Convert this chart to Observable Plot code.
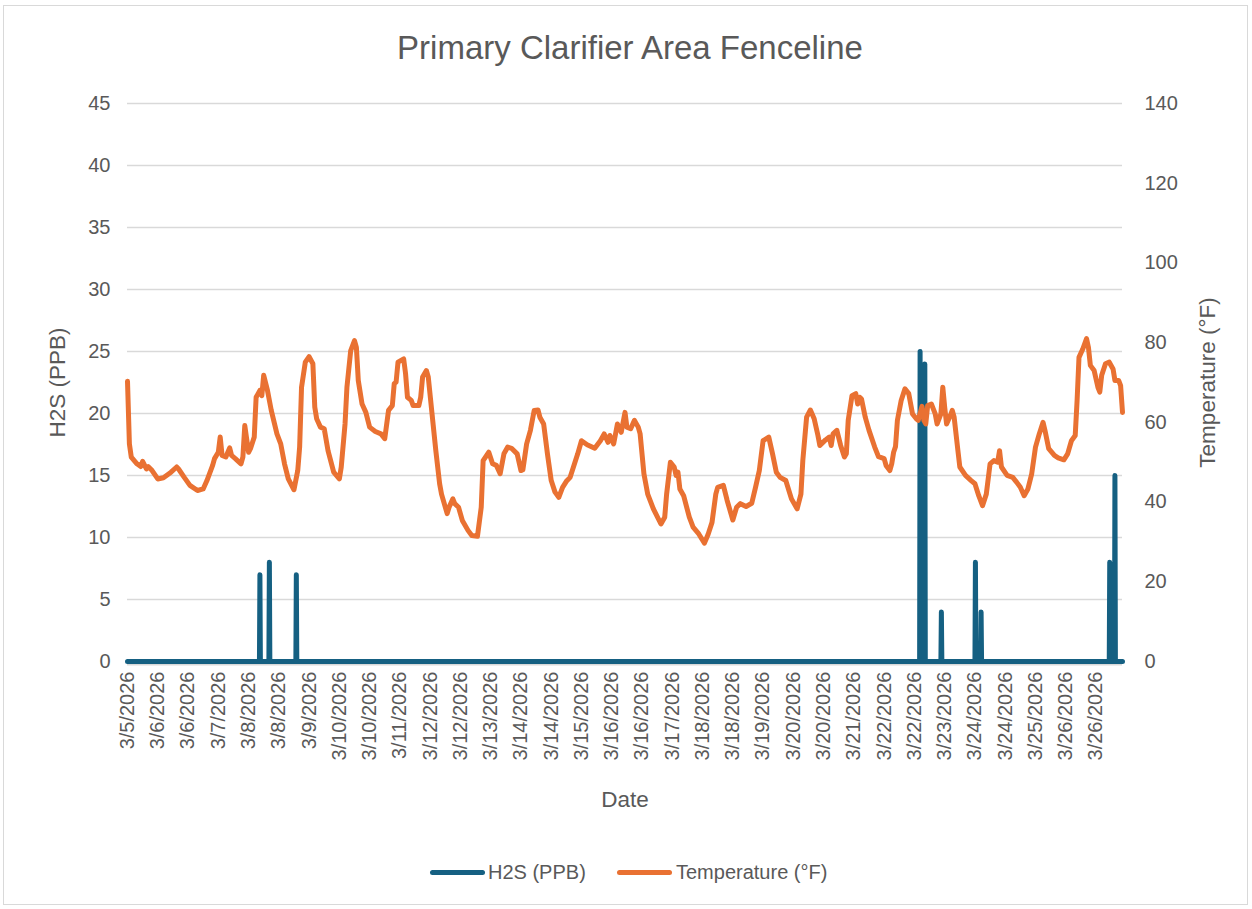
<!DOCTYPE html>
<html><head><meta charset="utf-8">
<script src="https://cdn.jsdelivr.net/npm/d3@7"></script>
<script src="https://cdn.jsdelivr.net/npm/@observablehq/plot@0.6"></script>
<style>
body{margin:0;background:#fff;font-family:"Liberation Sans",Arial,sans-serif;color:#595959;width:1252px;height:909px;overflow:hidden}
#frame{position:absolute;left:3px;top:5px;width:1245px;height:900px;border:1px solid #d9d9d9;box-sizing:border-box}
#title{position:absolute;left:0;width:1260px;top:28px;text-align:center;font-size:33px;line-height:40px}
#chart{position:absolute;left:0;top:0}
.sw{position:absolute;height:5px;border-radius:3px;top:869.5px;width:55px}
.lt{position:absolute;top:860px;height:24px;line-height:24px;font-size:20px;white-space:nowrap}
</style></head>
<body>
<div id="frame"></div>
<div id="chart"></div>
<div id="title">Primary Clarifier Area Fenceline</div>
<div class="sw" style="left:430px;background:#156082"></div><div class="lt" style="left:488px">H2S (PPB)</div>
<div class="sw" style="left:617px;background:#E97132"></div><div class="lt" style="left:676px">Temperature (°F)</div>
<script>
// category axis tick labels (one every 16 hours)
const tickLabels = ["3/5/2026","3/6/2026","3/6/2026","3/7/2026","3/8/2026","3/8/2026","3/9/2026","3/10/2026","3/10/2026","3/11/2026","3/12/2026","3/12/2026","3/13/2026","3/14/2026","3/14/2026","3/15/2026","3/16/2026","3/16/2026","3/17/2026","3/18/2026","3/18/2026","3/19/2026","3/20/2026","3/20/2026","3/21/2026","3/22/2026","3/22/2026","3/23/2026","3/24/2026","3/24/2026","3/25/2026","3/26/2026","3/26/2026"];
const tickHours = [0,16,32,48,64,80,96,112,128,144,160,176,192,208,224,240,256,272,288,304,320,336,352,368,384,400,416,432,448,464,480,496,512];
const lastHour = 526;
const h2sTicks = [0,5,10,15,20,25,30,35,40,45];
const tempTicks = [0,20,40,60,80,100,120,140];

// H2S (PPB) samples (15-minute readings): hour and value
const h2sHour  = [0,69.75,70,70.25,74.75,75,75.25,89,89.25,89.5,418.75,419,419.25,421.25,421.5,421.75,430,430.25,430.5,448,448.25,448.5,451,451.25,451.5,519,519.25,519.5,521.75,522,522.25,526];
const h2sValue = [0,0,7,0,0,8,0,0,7,0,0,25,0,0,24,0,0,4,0,0,8,0,0,4,0,0,8,0,0,15,0,0];

// Temperature (°F) samples: hour and value
const tempHour = [0,1,2,5,7,8,10,11,13,16,19,23,26,27,30,33,37,40,42,45,46,48,49,50,52,54,55,57,60,61,62,64,65,67,68,70,71,72,74,76,79,81,83,85,88,90,91,92,94,96,98,99,100,102,104,106,109,112,113,115,116,118,120,121,122,124,126,128,131,134,136,138,140,141,142,143,146,147,148,150,151,154,155,156,158,159,161,163,165,166,169,170,172,173,175,177,180,182,185,187,188,191,193,195,197,199,201,203,206,208,209,211,213,215,217,218,220,222,224,226,228,230,232,234,236,238,240,243,247,250,252,254,255,257,259,261,263,264,266,268,270,271,273,275,278,282,284,285,287,289,290,291,292,294,297,299,302,305,307,309,311,312,315,317,320,322,324,327,330,332,334,336,339,341,343,345,348,351,354,356,357,359,361,363,365,366,369,371,372,373,375,377,379,380,381,383,385,386,387,388,390,392,395,397,400,401,403,404,405,406,407,409,411,413,415,417,418,420,421,422,423,425,427,428,430,431,432,433,435,436,437,439,440,443,446,448,450,452,454,456,458,460,461,462,465,468,470,472,474,476,478,480,482,484,485,487,490,492,495,497,499,501,502,503,505,507,508,509,511,513,514,515,517,519,521,522,524,525,526];
const tempValue = [70.3,54.6,51.3,49.6,48.9,50.2,48.3,48.9,47.9,45.8,46.1,47.5,48.8,48.3,46.2,44.2,42.9,43.3,45.4,49.2,50.9,52.5,56.3,51.7,51.3,53.6,51.7,50.9,49.6,51.3,59.2,52.5,53.4,56.3,66.3,68,66.7,71.8,68,63,57.1,54.6,49.6,45.8,43.1,47.9,53.8,68.8,75.1,76.5,74.7,63.8,60.9,58.8,58.4,52.9,47.5,45.8,48.8,59.6,68.8,78,80.5,78.8,70.5,64.6,62.5,58.8,57.7,57.1,55.9,63,64.2,69.7,70.1,75.1,75.9,72.2,66.3,65.5,64.2,64.2,66.3,71.4,73,71.4,62.1,52.9,44.6,42,37.1,38.7,40.8,39.6,38.7,35.4,32.9,31.6,31.4,38.7,50.4,52.5,49.6,49.2,47.1,52.1,53.8,53.5,52.1,47.9,48.1,54.6,58,63,63.1,61.3,59.6,52.1,45.4,42.5,41.2,43.7,45.2,46.2,49.2,52.1,55.4,54.4,53.5,55.4,57.1,55,56.7,54.6,59.6,57.5,62.5,58.8,58.4,60.5,58.8,57.1,47.1,42,38.3,34.5,36.2,42,50,48.8,46.7,47.5,43.3,41.6,36.2,33.7,32,29.7,32,34.9,42,43.7,44.2,40.4,35.5,38.7,39.6,38.9,39.7,43.7,47.9,55.4,56.3,52.1,47.5,46.2,45.4,40.8,38.3,42,50.4,61.3,63.1,60.9,56.7,54.2,55.6,56.3,54.2,57.1,58,54.2,51.3,52.1,60.5,66.7,67.2,64.6,66.3,65.9,61.3,58,53.8,51.4,50.9,49.2,47.9,49.6,52.5,53.9,60.5,65.5,68.4,67.2,62.1,60.9,60.5,64,60.5,59.6,64.2,64.6,62.1,59.6,62.1,68.8,63.8,59.6,61.7,63,61.3,52.9,48.8,46.7,45.4,44.6,41.6,39.1,42,49.6,50.4,50,52.9,48.8,46.7,46.2,45,43.7,41.6,43.3,47.1,53.8,57.1,60,58,53.4,51.7,51.1,50.6,52.1,55.4,56.7,65.5,76.3,78.4,81,78.8,74.3,73,68.8,67.6,71.8,74.7,75.1,73.4,70.5,70.5,69.2,62.5];

const h2sData = h2sHour.map((h, k) => ({h, v: h2sValue[k]}));
const tempData = tempHour.map((h, k) => ({h, t: tempValue[k]}));
const h2sMax = h2sTicks[h2sTicks.length - 1], tempMax = tempTicks[tempTicks.length - 1];
const toLeft = t => t * h2sMax / tempMax;

const chart = Plot.plot({
  width: 1252, height: 830,
  marginTop: 103, marginBottom: 169, marginLeft: 127, marginRight: 130,
  style: {fontFamily: "Liberation Sans, Arial, sans-serif", color: "#595959", background: "transparent", overflow: "visible"},
  x: {domain: [0, lastHour]},
  y: {domain: [0, h2sMax]},
  marks: [
    Plot.gridY(h2sTicks.filter(d => d > 0), {stroke: "#d9d9d9", strokeOpacity: 1, strokeWidth: 1.5}),
    Plot.ruleY([0], {stroke: "#d9d9d9", strokeWidth: 3, dy: 2.5}),
    Plot.axisY(h2sTicks, {anchor: "left", tickSize: 0, tickPadding: 17, fontSize: 20, label: null}),
    Plot.axisY(tempTicks.map(toLeft), {anchor: "right", tickSize: 0, tickPadding: 22, fontSize: 20, label: null,
      tickFormat: d => String(Math.round(d * tempMax / h2sMax))}),
    Plot.axisX(tickHours, {anchor: "bottom", tickSize: 0, tickPadding: 10, tickRotate: -90, fontSize: 20, label: null,
      tickFormat: d => tickLabels[tickHours.indexOf(d)]}),
    Plot.line(h2sData, {x: "h", y: "v", stroke: "#156082", strokeWidth: 5, strokeLinecap: "round", strokeLinejoin: "round"}),
    Plot.line(tempData, {x: "h", y: d => toLeft(d.t), stroke: "#E97132", strokeWidth: 5, strokeLinecap: "round", strokeLinejoin: "round"}),
    Plot.text(["H2S (PPB)"], {text: d => d, frameAnchor: "left", textAnchor: "middle", dx: -70, rotate: -90, fontSize: 22.5}),
    Plot.text(["Temperature (°F)"], {text: d => d, frameAnchor: "right", textAnchor: "middle", dx: 85, rotate: -90, fontSize: 22.5}),
    Plot.text(["Date"], {text: d => d, frameAnchor: "bottom", dy: 145, fontSize: 22.5})
  ]
});
document.getElementById("chart").appendChild(chart);
</script>
</body></html>
